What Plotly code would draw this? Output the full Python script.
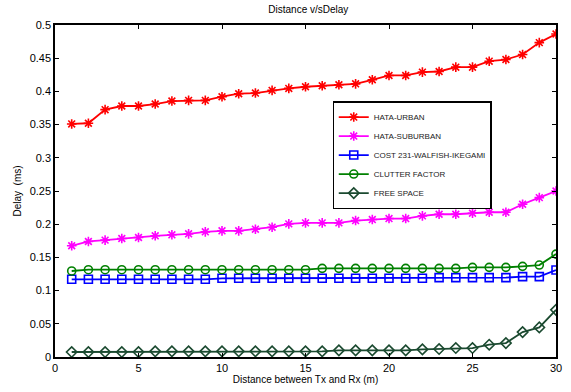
import plotly.graph_objects as go

distance = list(range(1, 31))

hata_urban = [0.351, 0.352, 0.3725, 0.378, 0.378, 0.381, 0.3855, 0.3865, 0.3865, 0.392,
              0.3965, 0.3975, 0.4015, 0.4045, 0.407, 0.4085, 0.410, 0.4114, 0.4175, 0.424,
              0.424, 0.429, 0.430, 0.4365, 0.4365, 0.4455, 0.448, 0.4555, 0.4735, 0.4865]
hata_suburban = [0.1675, 0.174, 0.176, 0.1785, 0.180, 0.1825, 0.184, 0.1855, 0.1885, 0.190,
                 0.190, 0.1925, 0.1955, 0.2005, 0.202, 0.202, 0.202, 0.2055, 0.207, 0.2085,
                 0.2085, 0.2125, 0.215, 0.215, 0.2165, 0.218, 0.218, 0.230, 0.240, 0.250]
cost231 = [0.117, 0.117, 0.117, 0.117, 0.117, 0.117, 0.117, 0.117, 0.117, 0.1185,
           0.1185, 0.1185, 0.1185, 0.1185, 0.1185, 0.1185, 0.1185, 0.1185, 0.1185, 0.1185,
           0.1185, 0.1185, 0.1195, 0.1195, 0.1195, 0.1195, 0.1195, 0.121, 0.121, 0.131]
clutter = [0.1295, 0.1315, 0.1315, 0.1315, 0.1315, 0.1315, 0.1315, 0.1315, 0.1315, 0.1315,
           0.1315, 0.1315, 0.1315, 0.1315, 0.1315, 0.1335, 0.1335, 0.1335, 0.1335, 0.1335,
           0.1335, 0.1335, 0.1335, 0.1335, 0.135, 0.135, 0.135, 0.1365, 0.1385, 0.155]
free_space = [0.0075, 0.0075, 0.0075, 0.0075, 0.0075, 0.0085, 0.0085, 0.0085, 0.0085, 0.0085,
              0.0085, 0.0085, 0.0085, 0.0085, 0.0085, 0.0085, 0.010, 0.010, 0.010, 0.010,
              0.010, 0.0115, 0.012, 0.0135, 0.0135, 0.0185, 0.021, 0.0375, 0.0445, 0.071]

series = [
    ("HATA-URBAN", hata_urban, "#ff0000", "asterisk-open"),
    ("HATA-SUBURBAN", hata_suburban, "#ff00ff", "asterisk-open"),
    ("COST 231-WALFISH-IKEGAMI", cost231, "#0000ff", "square-open"),
    ("CLUTTER FACTOR", clutter, "#008000", "circle-open"),
    ("FREE SPACE", free_space, "#1b4a30", "diamond-open"),
]

fig = go.Figure()
for name, vals, color, sym in series:
    fig.add_trace(go.Scatter(
        x=distance, y=vals, name=name, mode="lines+markers",
        line=dict(color=color, width=1.8),
        marker=dict(symbol=sym, size=8, color=color, line=dict(color=color, width=1.6)),
    ))

axis_common = dict(
    showline=True, linecolor="black", linewidth=1.5, mirror="ticks",
    ticks="inside", ticklen=4, tickcolor="black", showgrid=False, zeroline=False,
    tickfont=dict(family="Arial, Liberation Sans", size=11, color="black"),
)

fig.update_layout(
    width=571, height=392,
    margin=dict(l=55, r=9, t=25, b=34),
    paper_bgcolor="white", plot_bgcolor="white",
    title=dict(text="Distance v/sDelay", x=0.54, xanchor="center", y=0.985, yanchor="top",
               font=dict(family="Arial, Liberation Sans", size=10, color="black")),
    xaxis=dict(range=[0, 30], tickvals=[0, 5, 10, 15, 20, 25, 30],
               title=dict(text="Distance between Tx and Rx (m)", standoff=2,
                          font=dict(family="Arial, Liberation Sans", size=10, color="black")),
               **axis_common),
    yaxis=dict(range=[0, 0.5], tickvals=[0, 0.05, 0.1, 0.15, 0.2, 0.25, 0.3, 0.35, 0.4, 0.45, 0.5],
               ticktext=["0", "0.05", "0.1", "0.15", "0.2", "0.25", "0.3", "0.35", "0.4", "0.45", "0.5"],
               title=dict(text="Delay  (ms)", standoff=6,
                          font=dict(family="Arial, Liberation Sans", size=10, color="black")),
               **axis_common),
    legend=dict(x=0.554, y=0.77, xanchor="left", yanchor="top",
                bgcolor="white", bordercolor="black", borderwidth=1.2,
                font=dict(family="Arial, Liberation Sans", size=8, color="#222"),
                tracegroupgap=0, itemwidth=30),
    showlegend=True,
)

fig.write_html("out.html")
